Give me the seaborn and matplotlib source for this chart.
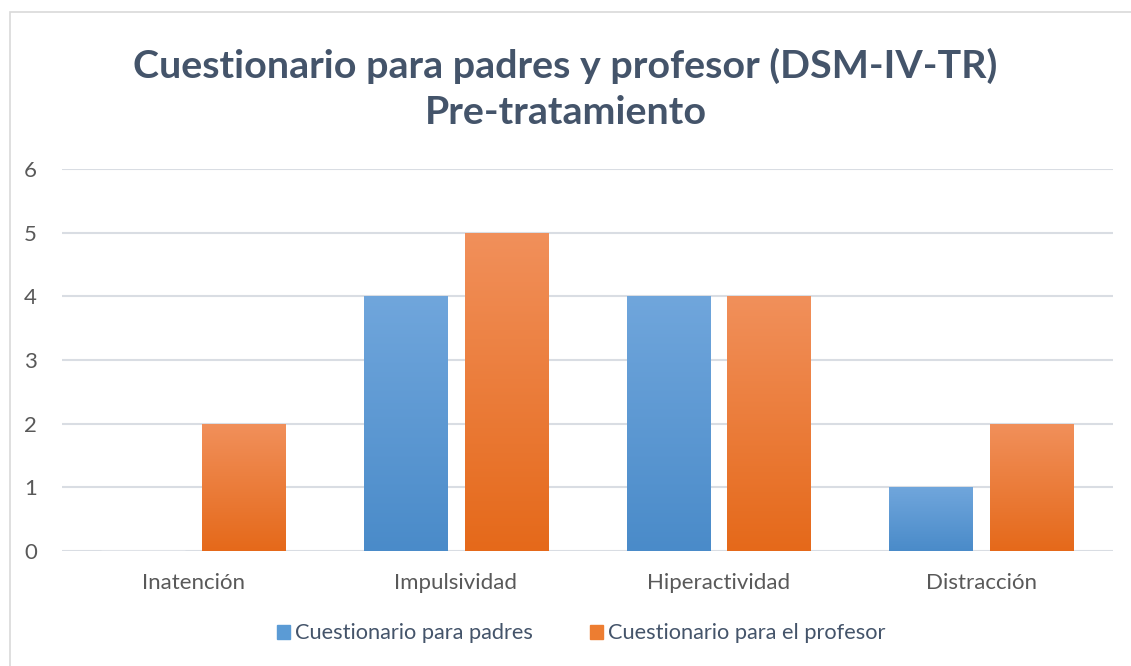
import matplotlib.pyplot as plt
import matplotlib.patches as mpatches
from matplotlib.colors import LinearSegmentedColormap
import numpy as np
import pandas as pd
import seaborn as sns

categories = ["Inatención", "Impulsividad", "Hiperactividad", "Distracción"]
padres = [0, 4, 4, 1]
profesor = [2, 5, 4, 2]
series_names = ["Cuestionario para padres", "Cuestionario para el profesor"]

TEXT = "#44546A"
TICK = "#595959"
GRID = "#D9DDE3"

df = pd.DataFrame({
    "categoria": categories * 2,
    "valor": padres + profesor,
    "serie": [series_names[0]] * 4 + [series_names[1]] * 4,
})

sns.set_theme(style="white")
plt.rcParams["font.family"] = ["Lato", "DejaVu Sans"]

fig = plt.figure(figsize=(11.31, 6.66), dpi=100)
ax = fig.add_axes([0.0548, 0.1727, 0.929, 0.5735])

palette = {series_names[0]: "#5B9BD5", series_names[1]: "#ED7D31"}
sns.barplot(df, x="categoria", y="valor", hue="serie", palette=palette,
            width=0.765, gap=0.17, legend=False, ax=ax, zorder=3)

# gradient fill like the Office chart
grads = {
    "#5B9BD5": ["#4A8BC9", "#70A6DC"],
    "#ED7D31": ["#E5691A", "#F1905B"],
}
bars = list(ax.patches)
for p in bars:
    fc = p.get_facecolor()
    key = "#5B9BD5" if fc[2] > fc[0] else "#ED7D31"
    if p.get_height() <= 0:
        continue
    cmap = LinearSegmentedColormap.from_list("g", grads[key])
    x0, y0 = p.get_x(), p.get_y()
    w, h = p.get_width(), p.get_height()
    grad = np.linspace(0, 1, 256).reshape(-1, 1)
    im = ax.imshow(grad, cmap=cmap, aspect="auto", origin="lower",
                   extent=[x0, x0 + w, y0, y0 + h], zorder=4)
    im.set_clip_path(p)
    p.set_edgecolor("none")

ax.set_xlim(-0.5, 3.5)
ax.set_ylim(0, 6)
ax.set_yticks(range(0, 7))
ax.yaxis.grid(True, color=GRID, linewidth=1.5, zorder=0)
ax.set_axisbelow(True)
for s in ax.spines.values():
    s.set_visible(False)
ax.tick_params(axis="both", length=0, labelsize=16, colors=TICK)
ax.tick_params(axis="x", pad=16)
ax.tick_params(axis="y", pad=18)
ax.set_xlabel("")
ax.set_ylabel("")

fig.text(0.5, 0.866, "Cuestionario para padres y profesor (DSM-IV-TR)\nPre-tratamiento",
         ha="center", va="center", fontsize=28.4, fontweight="bold",
         color=TEXT, linespacing=1.38)

handles = [mpatches.Rectangle((0, 0), 1, 1, color=c) for c in ["#5B9BD5", "#ED7D31"]]
fig.legend(handles, series_names, loc="center", bbox_to_anchor=(0.514, 0.049),
           ncol=2, frameon=False, fontsize=15.7, labelcolor=TEXT,
           handlelength=0.6, handleheight=0.6, handletextpad=0.25, columnspacing=2.6)

border = mpatches.Rectangle((0.009, -0.01), 1.2, 0.992, transform=fig.transFigure,
                            fill=False, edgecolor="#D9D9D9", linewidth=1.2)
fig.patches.append(border)

plt.savefig("out.png", dpi=100)
